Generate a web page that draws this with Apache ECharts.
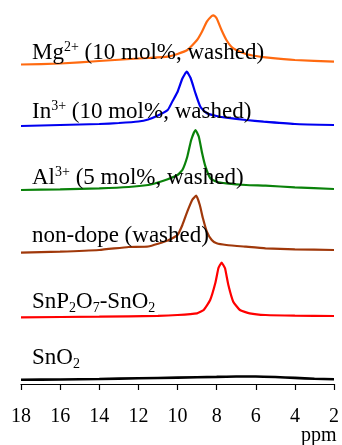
<!DOCTYPE html>
<html>
<head>
<meta charset="utf-8">
<script src="https://cdn.jsdelivr.net/npm/echarts/dist/echarts.min.js"></script>
<style>
html,body{margin:0;padding:0;background:#fff;}
#chart{width:342px;height:445px;}
</style>
</head>
<body>
<div id="chart"></div>
<script>
// x ticks (ppm)
var ppmTicks = [18, 16, 14, 12, 10, 8, 6, 4, 2];

// stacked spectra (intensity incl. vertical stacking offset, arbitrary units)
var mgPpm = [18, 16, 14, 12, 11.5, 10.5, 10, 9.5, 9, 8.75, 8.5, 8.25, 8.15, 8, 7.75, 7.5, 7.25, 7, 6.5, 6, 5.5, 4, 2];
var mgVal = [319.5, 320.5, 323, 325.5, 326, 327.3, 330, 334, 344, 352.3, 362.3, 368, 368.7, 365.7, 354, 344, 337.3, 334, 330, 328, 326.7, 324, 322.3];

var inPpm = [18, 16, 14, 13, 12, 11.5, 11, 10.5, 10.25, 10, 9.75, 9.53, 9.33, 9.08, 8.83, 8.5, 8, 7.5, 6.5, 5.6, 4, 2];
var inVal = [258, 259, 260, 261, 262.5, 264.5, 268.5, 274, 283, 292, 305.5, 312.3, 306, 290.7, 277.3, 270.7, 268, 266.3, 264, 262.3, 260, 259];

var alPpm = [18, 16, 14, 12.5, 11.5, 11, 10.5, 10, 9.75, 9.5, 9.3, 9.08, 8.91, 8.74, 8.57, 8.32, 8, 7.5, 6.5, 5.5, 4, 2];
var alVal = [194, 194.7, 195.7, 197, 199, 201.5, 204.7, 209, 214, 227.3, 244, 254, 247.3, 230.7, 217.3, 205.7, 202.3, 200.7, 199, 198.3, 196.7, 195];

var ndPpm = [18, 16, 14, 12.5, 11.5, 10.5, 10, 9.75, 9.5, 9.25, 9.04, 8.86, 8.7, 8.5, 8.25, 8, 7.5, 6.5, 5.5, 4, 2];
var ndVal = [131.3, 132.3, 134, 137, 137.5, 143.5, 149, 159, 172.3, 184, 188.3, 179, 165.7, 152.3, 144, 140.7, 139, 137.3, 135.7, 134.7, 134];

var spPpm = [18, 14, 11, 10, 9, 8.66, 8.33, 8.07, 7.91, 7.83, 7.74, 7.66, 7.57, 7.4, 7.15, 6.81, 6.31, 5.5, 4, 2];
var spVal = [66.7, 67.3, 68.2, 69, 70.7, 74, 84, 100.7, 115.7, 119, 121.5, 119, 115.7, 99, 82.3, 74, 70.7, 69, 68.3, 68];

var snPpm = [18, 16, 14, 12, 10, 8, 7, 6, 5, 4, 3, 2];
var snVal = [4.2, 4.5, 5, 5.7, 6.4, 7.1, 7.5, 7.5, 7, 6.1, 5.2, 4.7];

var seriesNames = ['Mg', 'In', 'Al', 'non-dope', 'SnP2O7-SnO2', 'SnO2'];
var seriesLabels = [
  '{n|Mg}{sup|2+}{n| (10 mol%, washed)}',
  '{n|In}{sup|3+}{n| (10 mol%, washed)}',
  '{n|Al}{sup|3+}{n| (5 mol%, washed)}',
  '{n|non-dope (washed)}',
  '{n|SnP}{sub|2}{n|O}{sub|7}{n|-SnO}{sub|2}',
  '{n|SnO}{sub|2}'
];
var axisName = 'ppm';

function zip(a, b) { return a.map(function (x, i) { return [x, b[i]]; }); }
var allData = [zip(mgPpm, mgVal), zip(inPpm, inVal), zip(alPpm, alVal), zip(ndPpm, ndVal), zip(spPpm, spVal), zip(snPpm, snVal)];
var colors = ['#ff6a10', '#0000f0', '#0a820a', '#a0380a', '#ff0000', '#000000'];
var labelTops = [40, 99, 165, 223, 289, 345];

var FONT = '"Liberation Serif", "Times New Roman", serif';
var rich = {
  n: { fontFamily: FONT, fontSize: 23, fontWeight: 'normal', lineHeight: 26, color: '#000' },
  sup: { fontFamily: FONT, fontSize: 14, fontWeight: 'normal', lineHeight: 14, verticalAlign: 'top', color: '#000' },
  sub: { fontFamily: FONT, fontSize: 14, fontWeight: 'normal', lineHeight: 14, verticalAlign: 'bottom', color: '#000' }
};

var titles = seriesLabels.map(function (t, i) {
  return { text: t, left: 32, top: labelTops[i], padding: 0,
    textStyle: { fontFamily: FONT, fontWeight: 'normal', fontSize: 23, color: '#000', rich: rich } };
});
titles.push({ text: axisName, left: 301, top: 426, padding: 0,
  textStyle: { fontFamily: FONT, fontSize: 20, fontWeight: 'normal', color: '#000', lineHeight: 20 } });

var chart = echarts.init(document.getElementById('chart'), null, { renderer: 'canvas' });
chart.setOption({
  animation: false,
  backgroundColor: '#fff',
  title: titles,
  grid: { left: 21, right: 3, top: 0, bottom: 61, containLabel: false },
  xAxis: {
    type: 'value', min: 2, max: 18, interval: 2, inverse: true,
    axisLine: { show: true, lineStyle: { color: '#000', width: 1.2 } },
    axisTick: { show: true, length: 6, inside: false, lineStyle: { color: '#000', width: 1.2 } },
    axisLabel: { show: true, margin: 23, fontFamily: FONT, fontSize: 20, color: '#000',
      formatter: function (v) { return ppmTicks.indexOf(v) >= 0 ? String(v) : ''; } },
    splitLine: { show: false }
  },
  yAxis: { type: 'value', min: 0, max: 384, show: false, splitLine: { show: false } },
  series: allData.map(function (d, i) {
    return {
      name: seriesNames[i], type: 'line', data: d, showSymbol: false, smooth: 0.15,
      clip: false,
      lineStyle: { color: colors[i], width: i === 5 ? 2.6 : 2.2 }
    };
  })
});
</script>
</body>
</html>
